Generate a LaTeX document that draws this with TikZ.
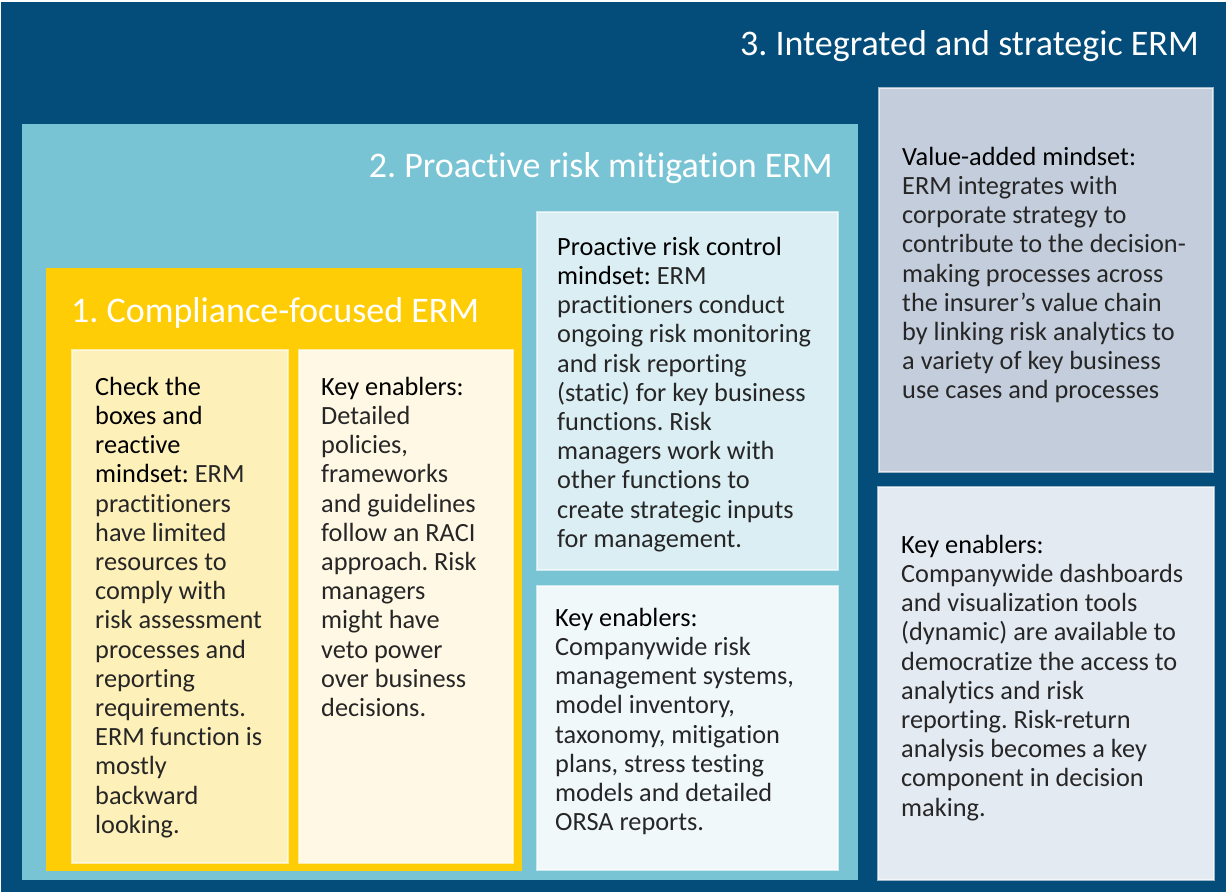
\documentclass[tikz,border=0pt]{standalone}
\usepackage{fontspec}
\setmainfont{Carlito}[Ligatures={NoCommon}]
\frenchspacing
\definecolor{darkblue}{RGB}{4,77,122}
\definecolor{midblue}{RGB}{120,196,212}
\definecolor{gold}{RGB}{255,205,5}
\definecolor{pale1a}{RGB}{254,240,185}
\definecolor{pale1b}{RGB}{255,248,228}
\definecolor{pale2a}{RGB}{218,238,243}
\definecolor{pale2b}{RGB}{241,248,250}
\definecolor{pale3a}{RGB}{195,205,219}
\definecolor{pale3b}{RGB}{228,234,242}
\definecolor{bodygray}{RGB}{38,38,38}
\newcommand{\hd}[1]{{\color{black}#1}}
\newcommand{\fst}{\rule{0pt}{22pt}}
\tikzset{
  card/.style={draw=white, draw opacity=0.6, line width=1.2pt},
  titletext/.style={text=white, font=\frenchspacing\fontsize{36}{40}\selectfont, inner sep=0pt},
  bodytext/.style={text=bodygray, font=\frenchspacing\fontsize{26.3}{29.2}\selectfont, align=left, inner sep=0pt, anchor=north west}
}
\begin{document}
\begin{tikzpicture}[x=1pt,y=-1pt]
\useasboundingbox (0,0) rectangle (1226,892);
\fill[white] (0,0) rectangle (1226,892);
% level 3
\fill[darkblue] (1,2) rectangle (1226,892);
\node[titletext, anchor=base east] (t3) at (1199,55) {3. Integrated and strategic ERM};
% level 2
\fill[midblue] (22,124) rectangle (858,880);
\node[titletext, anchor=base east] (t2) at (833,177) {2. Proactive risk mitigation ERM};
% level 1
\fill[gold] (46,268) rectangle (522,871);
\node[titletext, anchor=base west] (t1) at (71,322) {1. Compliance-focused ERM};
% cards
\draw[card, fill=pale1a] (72,350) rectangle (288,863);
\draw[card, fill=pale1b] (299,350) rectangle (513,863);
\draw[card, fill=pale2a] (537,212) rectangle (838,570);
\draw[card, fill=pale2b] (537,586) rectangle (838,870);
\draw[card, fill=pale3a] (879,88) rectangle (1213,472);
\draw[card, fill=pale3b] (878,487) rectangle (1214,880);
% texts
\node[bodytext] (c1a) at (95,{395-22}) {\fst\hd{Check the}\\ \hd{boxes and}\\ \hd{reactive}\\ \hd{mindset:} ERM\\ practitioners\\ have limited\\ resources to\\ comply with\\ risk assessment\\ processes and\\ reporting\\ requirements.\\ ERM function is\\ mostly\\ backward\\ looking.};
\node[bodytext] (c1b) at (321,{395-22}) {\fst\hd{Key enablers:}\\ Detailed\\ policies,\\ frameworks\\ and guidelines\\ follow an RACI\\ approach. Risk\\ managers\\ might have\\ veto power\\ over business\\ decisions.};
\node[bodytext] (c2a) at (557,{255-22}) {\fst\hd{Proactive risk control}\\ \hd{mindset:} ERM\\ practitioners conduct\\ ongoing risk monitoring\\ and risk reporting\\ (static) for key business\\ functions. Risk\\ managers work with\\ other functions to\\ create strategic inputs\\ for management.};
\node[bodytext] (c2b) at (555,{626-22}) {\fst\hd{Key enablers:}\\ Companywide risk\\ management systems,\\ model inventory,\\ taxonomy, mitigation\\ plans, stress testing\\ models and detailed\\ ORSA reports.};
\node[bodytext] (c3a) at (902,{165-22}) {\fst\hd{Value-added mindset:}\\ ERM integrates with\\ corporate strategy to\\ contribute to the decision-\\ making processes across\\ the insurer’s value chain\\ by linking risk analytics to\\ a variety of key business\\ use cases and processes};
\node[bodytext] (c3b) at (901,{553-22}) {\fst\hd{Key enablers:}\\ Companywide dashboards\\ and visualization tools\\ (dynamic) are available to\\ democratize the access to\\ analytics and risk\\ reporting. Risk-return\\ analysis becomes a key\\ component in decision\\ making.};
\end{tikzpicture}
\end{document}
